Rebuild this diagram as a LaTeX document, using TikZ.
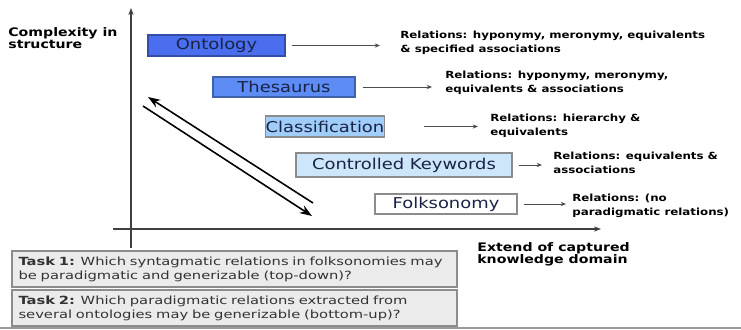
\documentclass[tikz,border=0pt]{standalone}
\usepackage{fontspec}
\setmainfont[FakeStretch=1.2]{DejaVu Sans}
\newfontfamily\taskfont[FakeStretch=1.31]{DejaVu Sans}
\usetikzlibrary{arrows.meta}
\definecolor{ontoblue}{RGB}{74,110,238}
\definecolor{thesblue}{RGB}{92,140,244}
\definecolor{classblue}{RGB}{160,205,250}
\definecolor{kwblue}{RGB}{206,230,250}
\definecolor{boxtext}{RGB}{25,35,70}

\begin{document}
\begin{tikzpicture}[x=0.02cm,y=-0.02cm,
    levelnode/.style={draw=black!45, line width=0.6pt, minimum height=0.42cm, inner sep=0pt, font=\fontsize{8.5}{10}\selectfont, text=boxtext},
    relnode/.style={anchor=west, align=left, inner sep=0pt, font=\fontsize{5.6}{7.9}\selectfont\bfseries},
    relarrow/.style={-{Stealth[length=3pt,width=2.4pt]}, black!70, line width=0.45pt},
    axislabel/.style={anchor=north west, align=left, inner sep=0pt, font=\fontsize{6.7}{7}\selectfont\bfseries},
    taskbox/.style={draw=black!45, fill=black!8, line width=0.8pt, minimum width=8.9cm, minimum height=0.72cm, text width=8.64cm, inner xsep=0.13cm, inner ysep=0pt, align=left, font=\taskfont\fontsize{6.4}{8}\selectfont, text=black!80},
    ]
    \useasboundingbox (0,0) rectangle (741,330);

    % axes
    \coordinate (ybot) at (131,248);
    \coordinate (ytop) at (131,8);
    \coordinate (xleft) at (113,229);
    \coordinate (xright) at (601,229);
    \draw[-{Stealth[length=4pt,width=3pt]}, black!75, line width=0.8pt] (ybot) -- (ytop);
    \draw[-{Stealth[length=4pt,width=3pt]}, black!75, line width=0.8pt] (xleft) -- (xright);

    \node[axislabel] (ylabel) at (8,27) {Complexity in\\structure};
    \node[axislabel] (xlabel) at (477,242) {Extend of captured\\knowledge domain};

    % levels
    \node[levelnode, fill=ontoblue, draw=ontoblue!70!black, minimum width=2.74cm] (onto) at (216.5,45.5) {Ontology};
    \node[levelnode, fill=thesblue, draw=thesblue!70!black, minimum width=2.84cm, minimum height=0.4cm] (thes) at (284,87) {Thesaurus};
    \node[levelnode, fill=classblue, minimum width=2.32cm] (class) at (325,126.5) {Classification};
    \node[levelnode, fill=kwblue, minimum width=4.32cm, minimum height=0.48cm] (ckw) at (404,165) {Controlled Keywords};
    \node[levelnode, fill=white, minimum width=2.84cm, minimum height=0.4cm] (folk) at (446,204) {Folksonomy};

    % relations
    \node[relnode] (ontorel) at (400,43) {Relations: hyponymy, meronymy, equivalents\\\& specified associations};
    \node[relnode] (thesrel) at (445,83) {Relations: hyponymy, meronymy,\\equivalents \& associations};
    \node[relnode] (classrel) at (490,126) {Relations: hierarchy \&\\equivalents};
    \node[relnode] (ckwrel) at (553,163) {Relations: equivalents \&\\associations};
    \node[relnode] (folkrel) at (572,206) {Relations: (no\\paradigmatic relations)};

    \draw[relarrow, shorten <=0.12cm, shorten >=0.4cm] (onto.east) -- (onto.east -| ontorel.west);
    \draw[relarrow, shorten <=0.14cm, shorten >=0.26cm] (thes.east) -- (thes.east -| thesrel.west);
    \draw[relarrow, shorten <=0.78cm, shorten >=0.24cm] (class.east) -- (class.east -| classrel.west);
    \draw[relarrow, shorten <=0.12cm, shorten >=0.22cm] (ckw.east) -- (ckw.east -| ckwrel.west);
    \draw[relarrow, shorten <=0.12cm, shorten >=0.12cm] (folk.east) -- (folk.east -| folkrel.west);

    % top-down / bottom-up
    \coordinate (up1) at (313,203);
    \coordinate (up2) at (148,97);
    \coordinate (dn1) at (143,106);
    \coordinate (dn2) at (312,216);
    \draw[-{Stealth[length=7pt,width=5pt]}, line width=0.9pt] (up1) -- (up2);
    \draw[-{Stealth[length=7pt,width=5pt]}, line width=0.9pt] (dn1) -- (dn2);

    % tasks
    \node[taskbox] (task1) at (234.5,269) {\textbf{Task 1:} Which syntagmatic relations in folksonomies may\\be paradigmatic and generizable (top-down)?};
    \node[taskbox] (task2) at (234.5,308) {\textbf{Task 2:} Which paradigmatic relations extracted from\\several ontologies may be generizable (bottom-up)?};

    \coordinate (baseL) at (0,328);
    \coordinate (baseR) at (741,328);
    \draw[black!40, line width=1pt] (baseL) -- (baseR);
\end{tikzpicture}
\end{document}
